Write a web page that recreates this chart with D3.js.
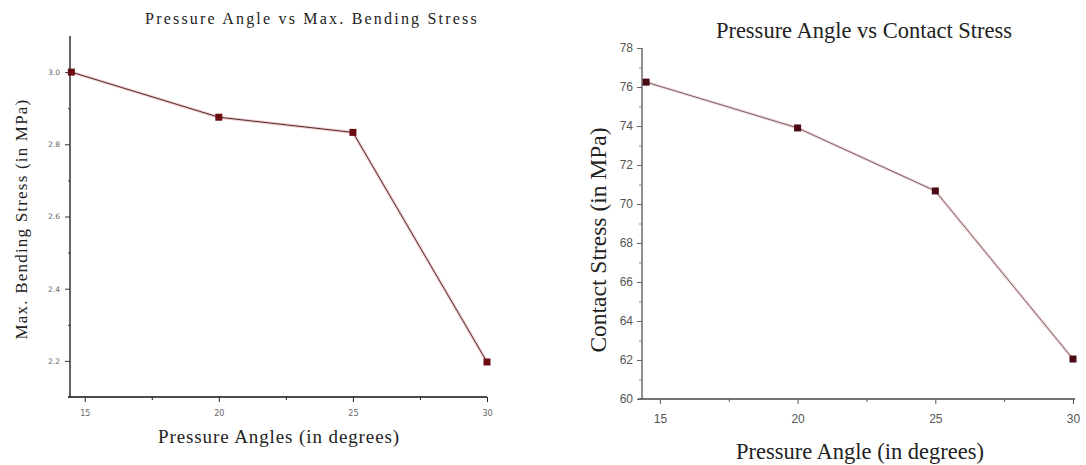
<!DOCTYPE html>
<html>
<head>
    <meta charset="utf-8">
    <title>Pressure Angle charts</title>
    <script src="https://d3js.org/d3.v7.min.js"></script>
</head>
<style>
    body {
        margin: 0px;
        background-color: white;
    }

    .title,
    .axis-label {
        font-family: "Liberation Serif", "DejaVu Serif", serif;
        fill: #222;
    }

    .line {
        fill: none;
    }
</style>
<body>
    <svg id="svg"></svg>

    <script>
        // pressure angles (degrees)
        var angles = [14.5, 20, 25, 30]
        // left chart: max bending stress (MPa)
        var bendingStress = [3.0, 2.875, 2.833, 2.197]
        // right chart: contact stress (MPa)
        var contactStress = [76.25, 73.9, 70.67, 62.05]

        var xTicks = [15, 20, 25, 30]
        var xMinorTicks = [17.5, 22.5, 27.5]
        var bendTicks = [2.2, 2.4, 2.6, 2.8, 3.0]
        var bendMinorTicks = [2.3, 2.5, 2.7, 2.9]
        var contactTicks = [60, 62, 64, 66, 68, 70, 72, 74, 76, 78]
        var contactMinorTicks = [61, 63, 65, 67, 69, 71, 73, 75, 77]

        var width = 1086
        var height = 465

        var svg = d3.select("svg")
            .attr("width", width)
            .attr("height", height)

        // ---------- left chart ----------
        var xL = d3.scaleLinear().domain([14.45, 30]).range([70, 487])
        var yL = d3.scaleLinear().domain([2.1, 3.1]).range([397, 36])

        var left = svg.append("g")

        // x axis
        left.append("line")
            .attr("x1", xL.range()[0] - 2).attr("x2", xL.range()[1])
            .attr("y1", yL.range()[0]).attr("y2", yL.range()[0])
            .attr("stroke", "#111").attr("stroke-width", 1.3)
        left.append("g")
            .attr("transform", "translate(0," + yL.range()[0] + ")")
            .call(d3.axisBottom(xL).tickValues(xTicks).tickSize(5).tickPadding(8).tickFormat(d3.format("d")))
            .call(g => g.select(".domain").remove())
            .call(g => g.selectAll("line").attr("stroke", "#222"))
            .call(g => g.selectAll("text").attr("font-family", "DejaVu Sans").attr("font-size", 8).attr("fill", "#666"))
        left.append("g")
            .attr("transform", "translate(0," + yL.range()[0] + ")")
            .call(d3.axisBottom(xL).tickValues(xMinorTicks).tickSize(3).tickFormat(""))
            .call(g => g.select(".domain").remove())
            .call(g => g.selectAll("line").attr("stroke", "#222"))

        // y axis
        left.append("line")
            .attr("x1", xL.range()[0]).attr("x2", xL.range()[0])
            .attr("y1", yL.range()[0]).attr("y2", yL.range()[1])
            .attr("stroke", "#111").attr("stroke-width", 1.3)
        left.append("g")
            .attr("transform", "translate(" + xL.range()[0] + ",0)")
            .call(d3.axisLeft(yL).tickValues(bendTicks).tickSize(5).tickPadding(5).tickFormat(d3.format(".1f")))
            .call(g => g.select(".domain").remove())
            .call(g => g.selectAll("line").attr("stroke", "#333"))
            .call(g => g.selectAll("text").attr("font-family", "DejaVu Sans").attr("font-size", 7.5).attr("fill", "#666"))
        left.append("g")
            .attr("transform", "translate(" + xL.range()[0] + ",0)")
            .call(d3.axisLeft(yL).tickValues(bendMinorTicks).tickSize(2).tickFormat(""))
            .call(g => g.select(".domain").remove())
            .call(g => g.selectAll("line").attr("stroke", "#333"))

        var lineL = d3.line().x((d, i) => xL(angles[i])).y(d => yL(d))
        left.append("path").datum(bendingStress).attr("class", "line")
            .attr("d", lineL).attr("stroke", "#f4c9cc").attr("stroke-width", 3)
        left.append("path").datum(bendingStress).attr("class", "line")
            .attr("d", lineL).attr("stroke", "#4a3030").attr("stroke-width", 1)
        left.selectAll(".mark").data(bendingStress).join("rect")
            .attr("class", "mark")
            .attr("x", (d, i) => xL(angles[i]) - 3.5).attr("y", d => yL(d) - 3.5)
            .attr("width", 7).attr("height", 7)
            .attr("fill", "#6b0a10")

        left.append("text").attr("class", "title")
            .attr("x", 312).attr("y", 24)
            .attr("text-anchor", "middle").attr("font-size", 16)
            .attr("letter-spacing", 2.2)
            .text("Pressure Angle vs Max. Bending Stress")
        left.append("text").attr("class", "axis-label")
            .attr("x", 279).attr("y", 443)
            .attr("text-anchor", "middle").attr("font-size", 19)
            .attr("letter-spacing", 0.9)
            .text("Pressure Angles (in degrees)")
        left.append("text").attr("class", "axis-label")
            .attr("transform", "translate(27,219) rotate(-90)")
            .attr("text-anchor", "middle").attr("font-size", 17)
            .attr("letter-spacing", 1.2)
            .text("Max. Bending Stress (in MPa)")

        // ---------- right chart ----------
        var xR = d3.scaleLinear().domain([14.35, 30]).range([642, 1073])
        var yR = d3.scaleLinear().domain([60, 78]).range([399, 48])

        var right = svg.append("g")

        right.append("line")
            .attr("x1", xR.range()[0] - 4).attr("x2", xR.range()[1] + 2)
            .attr("y1", yR.range()[0]).attr("y2", yR.range()[0])
            .attr("stroke", "#444").attr("stroke-width", 1.3)
        right.append("g")
            .attr("transform", "translate(0," + yR.range()[0] + ")")
            .call(d3.axisBottom(xR).tickValues(xTicks).tickSize(5).tickPadding(10).tickFormat(d3.format("d")))
            .call(g => g.select(".domain").remove())
            .call(g => g.selectAll("line").attr("stroke", "#555"))
            .call(g => g.selectAll("text").attr("font-family", "Liberation Sans").attr("font-size", 12).attr("fill", "#555"))
        right.append("g")
            .attr("transform", "translate(0," + yR.range()[0] + ")")
            .call(d3.axisBottom(xR).tickValues(xMinorTicks).tickSize(3).tickFormat(""))
            .call(g => g.select(".domain").remove())
            .call(g => g.selectAll("line").attr("stroke", "#555"))

        right.append("line")
            .attr("x1", xR.range()[0]).attr("x2", xR.range()[0])
            .attr("y1", yR.range()[0]).attr("y2", yR.range()[1])
            .attr("stroke", "#555").attr("stroke-width", 1.3)
        right.append("g")
            .attr("transform", "translate(" + xR.range()[0] + ",0)")
            .call(d3.axisLeft(yR).tickValues(contactTicks).tickSize(5).tickPadding(4).tickFormat(d3.format("d")))
            .call(g => g.select(".domain").remove())
            .call(g => g.selectAll("line").attr("stroke", "#666"))
            .call(g => g.selectAll("text").attr("font-family", "Liberation Sans").attr("font-size", 12).attr("fill", "#555"))
        right.append("g")
            .attr("transform", "translate(" + xR.range()[0] + ",0)")
            .call(d3.axisLeft(yR).tickValues(contactMinorTicks).tickSize(3).tickFormat(""))
            .call(g => g.select(".domain").remove())
            .call(g => g.selectAll("line").attr("stroke", "#888"))

        var lineR = d3.line().x((d, i) => xR(angles[i])).y(d => yR(d))
        right.append("path").datum(contactStress).attr("class", "line")
            .attr("d", lineR).attr("stroke", "#f7d6da").attr("stroke-width", 3)
        right.append("path").datum(contactStress).attr("class", "line")
            .attr("d", lineR).attr("stroke", "#6e6466").attr("stroke-width", 1)
        right.selectAll(".mark").data(contactStress).join("rect")
            .attr("class", "mark")
            .attr("x", (d, i) => xR(angles[i]) - 3.5).attr("y", d => yR(d) - 3.5)
            .attr("width", 7).attr("height", 7)
            .attr("fill", "#4a0a14")

        right.append("text").attr("class", "title")
            .attr("x", 864).attr("y", 38)
            .attr("text-anchor", "middle").attr("font-size", 22.5)
            .text("Pressure Angle vs Contact Stress")
        right.append("text").attr("class", "axis-label")
            .attr("x", 860).attr("y", 459)
            .attr("text-anchor", "middle").attr("font-size", 22.5)
            .text("Pressure Angle (in degrees)")
        right.append("text").attr("class", "axis-label")
            .attr("transform", "translate(606,240) rotate(-90)")
            .attr("text-anchor", "middle").attr("font-size", 23.5)
            .text("Contact Stress (in MPa)")
    </script>
</body>
</html>
